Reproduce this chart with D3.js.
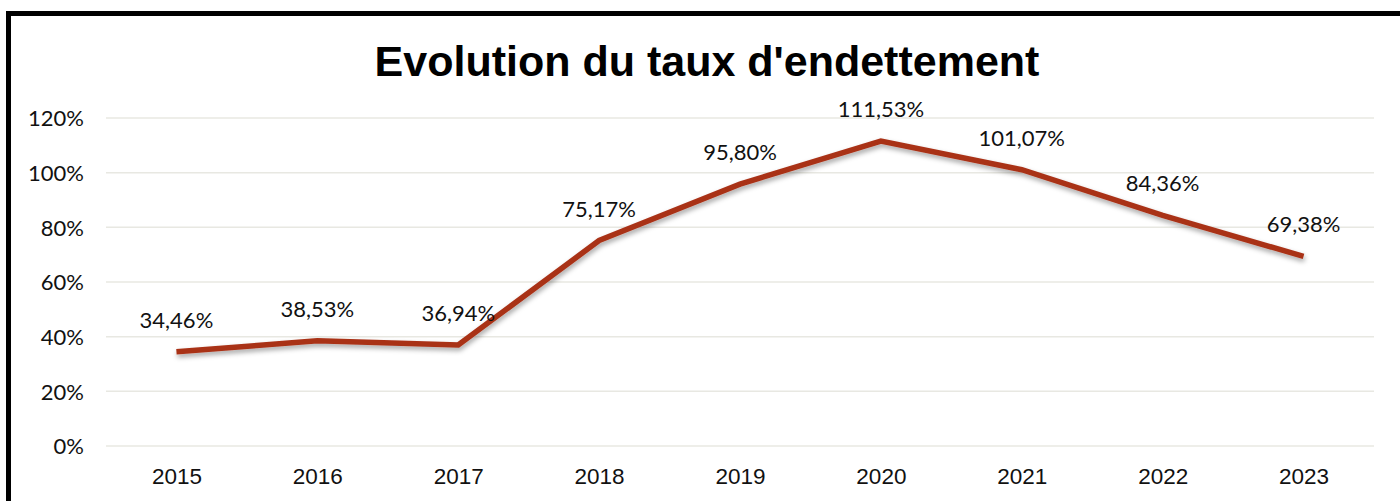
<!DOCTYPE html>
<html><head><meta charset="utf-8">
<script src="https://cdn.jsdelivr.net/npm/d3@7"></script>
<style>body{margin:0;background:#fff;}svg{display:block;}</style>
</head><body>
<svg id="c" width="1400" height="501"></svg>
<script>
const years = ["2015","2016","2017","2018","2019","2020","2021","2022","2023"];
const rates = [34.46, 38.53, 36.94, 75.17, 95.80, 111.53, 101.07, 84.36, 69.38];
const yTicks = [0, 20, 40, 60, 80, 100, 120];
const chartTitle = "Evolution du taux d'endettement";

const svg = d3.select("#c");
const plotL = 106, plotR = 1374, plotT = 118, plotB = 446;
const labelFont = "Lato, 'DejaVu Sans', sans-serif";

// frame
svg.append("rect").attr("x", 8.5).attr("y", 13.5).attr("width", 1420).attr("height", 520)
  .attr("fill", "#fff").attr("stroke", "#000").attr("stroke-width", 5);

const x = d3.scalePoint().domain(years).range([plotL, plotR]).padding(0.5);
const y = d3.scaleLinear().domain([0, 120]).range([plotB, plotT]);

const defs = svg.append("defs");
const f = defs.append("filter").attr("id","sh").attr("x","-10%").attr("y","-10%").attr("width","120%").attr("height","140%");
f.append("feDropShadow").attr("dx",1).attr("dy",3).attr("stdDeviation",2.5).attr("flood-color","#000").attr("flood-opacity",0.35);

// gridlines
svg.append("g").selectAll("line").data(yTicks).join("line")
  .attr("x1", plotL).attr("x2", plotR)
  .attr("y1", d => y(d)).attr("y2", d => y(d))
  .attr("stroke", "#e8e8e2").attr("stroke-width", 1.5);

// y axis labels
const yAxis = d3.axisLeft(y).tickValues(yTicks).tickSize(0).tickPadding(0).tickFormat(d => d + "%");
const ga = svg.append("g").attr("transform", `translate(${84},0)`).call(yAxis);
ga.select(".domain").remove();
ga.selectAll("text").attr("font-family", labelFont).attr("font-size", 22).attr("fill", "#111")
  .attr("dy", "0.36em");

// x axis labels
const xAxis = d3.axisBottom(x).tickSize(0).tickPadding(0);
const gx = svg.append("g").attr("transform", `translate(0,${484})`).call(xAxis);
gx.select(".domain").remove();
gx.selectAll("text").attr("font-family", "'Liberation Sans', Arial, sans-serif").attr("font-size", 22.5).attr("fill", "#111")
  .attr("dy", "0");

// line
const line = d3.line().x((d, i) => x(years[i])).y(d => y(d));
svg.append("path").datum(rates).attr("d", line)
  .attr("fill", "none").attr("stroke", "#A93218").attr("stroke-width", 5.5)
  .attr("stroke-linejoin", "miter").attr("filter", "url(#sh)");

// data labels
svg.append("g").selectAll("text").data(rates).join("text")
  .attr("x", (d, i) => x(years[i]))
  .attr("y", d => y(d) - 24)
  .attr("text-anchor", "middle")
  .attr("font-family", labelFont).attr("font-size", 22).attr("fill", "#111")
  .text(d => d.toFixed(2).replace(".", ",") + "%");

// title
svg.append("text").attr("x", 707).attr("y", 76).attr("text-anchor", "middle")
  .attr("font-family", "'Liberation Sans', Arial, sans-serif").attr("font-weight", "bold")
  .attr("font-size", 43).attr("fill", "#000").text(chartTitle);
</script>
</body></html>
